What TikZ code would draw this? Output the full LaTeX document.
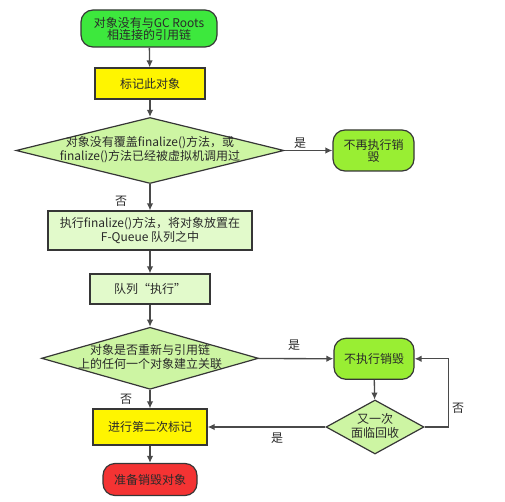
\documentclass[tikz,border=0pt]{standalone}
\usepackage{fontspec}
\setmainfont{Noto Sans CJK SC}
\usetikzlibrary{shapes.geometric,arrows.meta}
\definecolor{startgreen}{HTML}{3DE83D}
\definecolor{limegreen}{HTML}{99EE33}
\definecolor{palegreen}{HTML}{CDF5A3}
\definecolor{boxgreen}{HTML}{E2FACB}
\definecolor{markyellow}{HTML}{FFF500}
\definecolor{endred}{HTML}{F43333}
\definecolor{edge}{HTML}{363636}
\definecolor{textgray}{HTML}{2A2A2A}
% diamond text may stick out of the text box, so give it no width
\newcommand{\dtext}[1]{\makebox[0pt]{\begin{tabular}{@{}c@{}}#1\end{tabular}}}

\begin{document}
\begin{tikzpicture}[x=1pt, y=-1pt,
    every node/.style={font=\fontsize{12}{12}\selectfont, text=textgray},
    box/.style={draw=edge, line width=1.2pt, inner sep=0pt, align=center},
    roundbox/.style={box, rounded corners=12pt},
    decide/.style={box, shape=diamond, fill=palegreen},
    flow/.style={draw=edge!90, line width=1.3pt, -{Latex[length=7pt,width=6.5pt]}}]
    \useasboundingbox (0,0) rectangle (505,502);

    % main column
    \node[roundbox, fill=startgreen, minimum width=136pt, minimum height=37pt]
        (start) at (149,28.5) {对象没有与GC Roots\\相连接的引用链};
    \node[box, fill=markyellow, minimum width=110pt, minimum height=31pt]
        (mark) at (150,83.5) {标记此对象};
    \node[decide, minimum width=268pt, minimum height=66pt]
        (check) at (150,150.5) {\dtext{对象没有覆盖finalize()方法，或\\finalize()方法已经被虚拟机调用过}};
    \node[box, fill=boxgreen, minimum width=204pt, minimum height=39pt]
        (fqueue) at (150,230.5) {执行finalize()方法，将对象放置在\\F-Queue 队列之中};
    \node[box, fill=boxgreen, minimum width=120pt, minimum height=30pt]
        (run) at (150,289) {队列“执行”};
    \node[decide, minimum width=217pt, minimum height=62pt]
        (relink) at (150,358.3) {\dtext{对象是否重新与引用链\\上的任何一个对象建立关联}};
    \node[box, fill=markyellow, minimum width=114pt, minimum height=36pt]
        (mark2) at (150,427) {进行第二次标记};
    \node[roundbox, fill=endred, minimum width=94pt, minimum height=32pt]
        (finish) at (150,479.5) {准备销毁对象};

    % right column
    \node[roundbox, fill=limegreen, minimum width=81pt, minimum height=41pt]
        (nokill) at (373.5,150.5) {不再执行销\\毁};
    \node[roundbox, fill=limegreen, minimum width=80pt, minimum height=41pt]
        (keep) at (374,358.8) {不执行销毁};
    \node[decide, minimum width=98pt, minimum height=54pt]
        (again) at (375,427) {\dtext{又一次\\面临回收}};

    % connectors
    \draw[flow] (start) -- (mark);
    \draw[flow] (mark) -- (check);
    \draw[flow] (check) -- (nokill);
    \draw[flow] (check) -- (fqueue);
    \draw[flow] (fqueue) -- (run);
    \draw[flow] (run) -- (relink);
    \draw[flow] (relink) -- (keep);
    \draw[flow] (relink) -- (mark2);
    \draw[flow] (keep) -- (again);
    \draw[flow] (again) -- (mark2);
    \draw[flow] (again.east) -- ++(24,0) |- (keep.east);
    \draw[flow] (mark2) -- (finish);

    % branch labels
    \node (yes1) at (300,143) {是};
    \node (no1) at (121,201.5) {否};
    \node (yes2) at (294,345) {是};
    \node (no2) at (126,399.5) {否};
    \node (yes3) at (277,438.5) {是};
    \node (no3) at (458,408) {否};
\end{tikzpicture}
\end{document}
